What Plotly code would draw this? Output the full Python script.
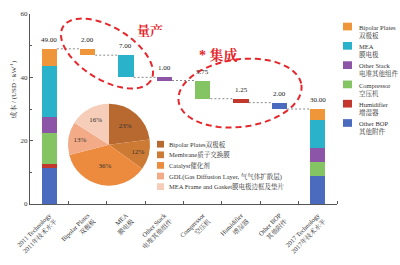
import numpy as np
import plotly.graph_objects as go

# ---------------- data ----------------
categories = ["2011 Technology<br>2011年技术水平", "Bipolar Plates<br>双极板", "MEA<br>膜电极",
              "Other Stack<br>电堆其他组件", "Compressor<br>空压机", "Humidifier<br>增湿器",
              "Other BOP<br>其他附件", "2017 Technology<br>2017年技术水平"]
components = ["Bipolar Plates", "MEA", "Other Stack", "Compressor", "Humidifier", "Other BOP"]
components_cn = ["双极板", "膜电极", "电堆其他组件", "空压机", "增湿器", "其他附件"]
comp_colors = ["#F0963A", "#2AB2CA", "#8D55A8", "#84C463", "#C4372D", "#4B6CBE"]
cost_2011 = [5.5, 16.0, 5.0, 10.0, 1.25, 11.25]
cost_2017 = [3.5, 8.9, 4.3, 4.5, 0.0, 8.8]
reductions = [2.00, 7.00, 1.00, 5.75, 1.25, 2.00]
total_2011 = 49.00
total_2017 = 30.00
y_ticks = [0, 20, 40, 60]

pie_labels = ["Bipolar Plates双极板", "Membrane质子交换膜", "Catalyst催化剂",
              "GDL(Gas Diffusion Layer, 气气体扩散层)", "MEA Frame and Gasket膜电极边框及垫片"]
pie_values = [23, 12, 36, 13, 16]
pie_colors = ["#B8692F", "#CD7A34", "#EC8B3E", "#F2AB86", "#F6CDB8"]

FONT = "Liberation Serif, Noto Serif CJK SC, Noto Sans CJK SC, serif"
RED = "#E5262B"
W, H = 400, 265
L, R, T, B = 30, 63, 10, 58
PW, PH = W - L - R, H - T - B


def px(x):
    return (x - L) / PW


def py(y):
    return (H - B - y) / PH


fig = go.Figure()
bw = 0.4

# stacked bars for the two technology years (bottom = Other BOP)
order = list(range(len(components)))[::-1]
base11, base17 = 0.0, 0.0
for i in order:
    fig.add_trace(go.Bar(x=[0, 7], y=[cost_2011[i], cost_2017[i]], base=[base11, base17],
                         width=bw, marker=dict(color=comp_colors[i], line=dict(width=0)),
                         showlegend=False, hoverinfo="skip"))
    base11 += cost_2011[i]
    base17 += cost_2017[i]

# waterfall steps
level = total_2011
cx, cy = [], []
cx += [0 + bw / 2, 1 - bw / 2, None]
cy += [level, level, None]
labels = [(0, total_2011, f"{total_2011:.2f}")]
for i, r in enumerate(reductions):
    xpos = i + 1
    fig.add_trace(go.Bar(x=[xpos], y=[r], base=[level - r], width=bw,
                         marker=dict(color=comp_colors[i], line=dict(width=0)),
                         showlegend=False, hoverinfo="skip"))
    labels.append((xpos, level, f"{r:.2f}"))
    level -= r
    cx += [xpos + bw / 2, xpos + 1 - bw / 2, None]
    cy += [level, level, None]
labels.append((7, total_2017, f"{total_2017:.2f}"))

fig.add_trace(go.Scatter(x=cx, y=cy, mode="lines", line=dict(color="#8a8a8a", width=1, dash="2px,2px"),
                         showlegend=False, hoverinfo="skip"))

for (x, y, t) in labels:
    fig.add_annotation(x=x, y=y, text=t, showarrow=False, yanchor="bottom", yshift=3,
                       font=dict(family=FONT, size=7, color="#222"))

# pie
fig.add_trace(go.Pie(values=pie_values, labels=pie_labels, sort=False, direction="clockwise",
                     marker=dict(colors=pie_colors, line=dict(width=0)),
                     texttemplate="%{value}%", textposition="inside", insidetextorientation="horizontal",
                     textfont=dict(family=FONT, size=7, color="#333"),
                     domain=dict(x=[px(67), px(151)], y=[py(188), py(103)]),
                     showlegend=False, hoverinfo="skip"))

shapes = []
# pie legend
for k, (lab, col) in enumerate(zip(pie_labels, pie_colors)):
    yc = 145 + k * 11
    shapes.append(dict(type="rect", xref="paper", yref="paper", x0=px(157), x1=px(164),
                       y0=py(yc + 3.5), y1=py(yc - 3.5), fillcolor=col, line=dict(width=0)))
    fig.add_annotation(xref="paper", yref="paper", x=px(167), y=py(yc), text=lab, showarrow=False,
                       xanchor="left", yanchor="middle", font=dict(family=FONT, size=6.5, color="#333"))

# bar legend
for k in range(len(components)):
    yc = 23 + k * 20
    shapes.append(dict(type="rect", xref="paper", yref="paper", x0=px(343), x1=px(352),
                       y0=py(yc + 4), y1=py(yc - 4), fillcolor=comp_colors[k], line=dict(width=0)))
    fig.add_annotation(xref="paper", yref="paper", x=px(357), y=py(yc - 5),
                       text=components[k] + "<br>" + components_cn[k], showarrow=False,
                       xanchor="left", yanchor="top", align="left",
                       font=dict(family=FONT, size=6.5, color="#333"))


# dashed ellipses
def ellipse(cxp, cyp, a, b, theta):
    t = np.linspace(0, 2 * np.pi, 73)
    th = np.deg2rad(theta)
    xs = cxp + a * np.cos(t) * np.cos(th) - b * np.sin(t) * np.sin(th)
    ys = cyp + a * np.cos(t) * np.sin(th) + b * np.sin(t) * np.cos(th)
    pts = [f"{px(x):.5f},{py(y):.5f}" for x, y in zip(xs, ys)]
    return "M" + " L".join(pts) + " Z"


shapes.append(dict(type="path", xref="paper", yref="paper", path=ellipse(107, 51, 52, 27, 33),
                   line=dict(color=RED, width=2, dash="6px,4px")))
shapes.append(dict(type="path", xref="paper", yref="paper", path=ellipse(240, 92, 62, 35, -8),
                   line=dict(color=RED, width=2, dash="6px,4px")))

fig.add_annotation(xref="paper", yref="paper", x=px(150), y=py(17), text="<b>量产</b>", showarrow=False,
                   font=dict(family=FONT, size=13, color=RED))
fig.add_annotation(xref="paper", yref="paper", x=px(240), y=py(42), text="<b>* 集成</b>", showarrow=False,
                   font=dict(family=FONT, size=14, color=RED))

# y-axis title
fig.add_annotation(xref="paper", yref="paper", x=px(7), y=py(88), text="成本 / (USD · kW<sup>-1</sup>)",
                   textangle=-90, showarrow=False, font=dict(family=FONT, size=7, color="#333"))

fig.update_layout(
    width=W, height=H, margin=dict(l=L, r=R, t=T, b=B),
    paper_bgcolor="white", plot_bgcolor="white", barmode="overlay", bargap=0,
    shapes=shapes,
    xaxis=dict(range=[-0.5, 7.5], tickmode="array", tickvals=list(range(8)), ticktext=categories,
               tickangle=-45, ticks="", showline=True, linecolor="#555", linewidth=1,
               showgrid=False, zeroline=False, ticklabelstandoff=4,
               tickfont=dict(family=FONT, size=6.5, color="#333"),
               minor=dict(tickmode="array", tickvals=[i + 0.5 for i in range(8)], ticks="inside",
                          ticklen=3, tickcolor="#555", showgrid=False)),
    yaxis=dict(range=[0, 60], tickmode="array", tickvals=y_ticks, ticks="inside", ticklen=3,
               tickcolor="#555", showline=True, linecolor="#555", linewidth=1, showgrid=False,
               zeroline=False, tickfont=dict(family=FONT, size=7, color="#333"),
               minor=dict(dtick=10, ticks="inside", ticklen=2, tickcolor="#555", showgrid=False)),
    font=dict(family=FONT),
)

fig.write_html("out.html")
